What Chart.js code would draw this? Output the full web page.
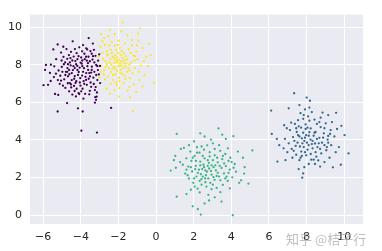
<!DOCTYPE html>
<html lang="en">
<head>
    <meta charset="UTF-8">
    <title>Blobs scatter</title>
    <script src="https://cdn.jsdelivr.net/npm/chart.js"></script>
    <style>
        body { margin: 0; background: #ffffff; }
        #wrap { position: relative; width: 382px; height: 251px; }
        #mark {
            position: absolute; left: 286px; top: 229px;
            font-family: "Noto Sans CJK SC", sans-serif; font-size: 13px;
            color: rgba(170, 170, 170, 0.75); white-space: nowrap;
        }
    </style>
</head>
<body>
<div id="wrap">
    <canvas id="blobs" width="382" height="251"></canvas>
    <div id="mark">知乎 @桔子行</div>
</div>
<script>
// tick labels
let xTicks = [-6, -4, -2, 0, 2, 4, 6, 8, 10];
let yTicks = [0, 2, 4, 6, 8, 10];

// cluster points [x, y]
let purplePts = [
    [-3.97,4.49],[-3.14,4.39],[-5.23,5.51],[-4.15,5.68],[-3.90,5.51],[-2.39,5.70],[-4.73,5.96],[-5.37,6.44],[-5.20,6.39],[-5.98,6.91],[-3.19,6.13],[-3.16,6.30],[-4.08,6.44],[-4.33,6.60],
    [-3.58,9.41],[-4.43,9.24],[-4.93,8.95],[-5.23,9.07],[-5.46,8.81],[-5.85,7.98],[-5.90,7.72],[-5.59,8.00],[-5.64,7.56],[-5.60,7.13],[-5.43,7.34],[-5.74,6.93],
    [-4.90,8.02],[-4.72,8.31],[-4.52,8.68],[-4.31,8.83],[-4.08,8.92],[-3.88,9.04],[-3.71,8.87],[-3.49,8.72],[-3.30,8.79],[-3.22,8.47],[-3.08,8.21],[-2.98,7.93],[-3.04,7.48],[-3.12,7.18],[-2.97,7.02],[-3.21,6.81],[-3.14,6.52],[-3.23,6.27],[-3.52,6.61],[-3.68,6.93],[-3.91,6.72],[-4.12,6.49],[-4.02,6.88],[-4.28,7.03],[-4.51,6.79],[-4.69,7.01],[-4.88,7.22],[-5.09,7.41],[-5.18,7.69],[-5.01,7.88],[-4.79,7.62],[-4.61,7.49],[-4.42,7.71],[-4.19,7.93],[-4.01,8.11],[-3.79,8.29],[-3.62,8.08],[-3.41,7.89],[-3.28,7.62],[-3.51,7.38],[-3.72,7.19],[-3.93,7.42],[-4.11,7.61],[-4.32,7.39],[-4.48,7.18],[-4.71,7.82],[-4.92,8.41],[-4.58,8.12],[-4.38,8.43],[-4.22,8.61],[-3.98,8.38],[-3.81,8.58],[-3.59,8.42],[-3.38,8.27],[-3.18,7.98],[-3.33,7.31],[-3.61,7.72],[-3.83,7.81],[-4.03,7.28],[-4.24,7.12],[-4.39,7.92],[-4.63,8.51],[-4.83,8.12],[-5.02,8.22],[-5.31,8.29],[-5.41,7.91],[-5.22,7.18],[-4.95,6.88],[-4.62,6.58],[-4.26,6.31],[-3.86,6.19],[-3.55,6.42],[-3.31,6.97],[-3.09,7.71],[-3.42,8.58],[-3.93,8.71],[-4.29,8.19],[-4.68,7.38],[-3.71,7.55],[-4.06,7.84],[-4.54,7.96],[-3.95,8.05],[-3.48,7.05],[-3.82,6.98],[-4.36,6.87],[-4.82,6.76],[-5.12,6.98],[-3.66,8.81],[-4.18,8.29],[-3.02,8.55],[-3.77,6.45],[-4.45,6.41],[-3.25,5.98],[-5.05,8.64],[-4.76,8.83],[-3.36,9.12],
    [-4.15,7.45],[-3.88,7.62],[-3.65,7.92],[-3.45,7.58],[-3.92,8.22],[-4.25,8.02],[-4.48,7.55],[-4.72,7.62],[-4.35,7.25],[-3.58,7.25],[-3.42,7.72],[-3.85,7.12],[-4.05,7.05],[-4.58,7.02],[-4.82,7.45],[-4.98,7.62],[-4.68,8.02],[-4.45,8.22],[-4.12,8.45],[-3.72,8.42],[-3.52,8.18],[-3.28,8.12],[-3.18,7.45],[-3.25,6.65],[-3.45,6.82],[-3.98,6.58],[-4.22,6.72],[-4.52,6.95],[-5.05,7.15],[-5.32,7.52],[-4.32,7.82],[-3.75,7.35],[-3.55,7.55],[-4.18,7.72],[-3.92,7.92],[-4.62,7.72],[-3.68,8.21],[-3.12,7.92],[-3.35,8.45],[-4.55,8.35]
];
let bluePts = [
    [6.12,5.56],[7.34,6.48],[8.01,6.25],[8.18,6.08],[9.57,5.44],[10.23,3.28],[9.82,2.68],[9.40,2.54],[7.77,1.99],[7.82,2.22],[6.15,4.32],[6.45,2.85],[6.55,3.72],[7.58,2.45],[8.72,2.58],[6.81,4.78],[7.05,5.68],[9.85,4.75],[10.02,4.25],[9.72,3.62],[7.62,5.85],[8.15,5.72],[8.75,5.18],[9.15,5.32],[6.42,4.05],
    [7.52,3.85],[7.75,4.08],[7.98,4.25],[8.21,4.02],[8.45,3.81],[8.68,4.11],[8.92,4.35],[9.12,4.02],[9.31,3.72],[9.05,3.45],[8.78,3.28],[8.52,3.11],[8.25,2.95],[7.98,3.18],[7.72,3.38],[7.45,3.21],[7.21,3.52],[7.05,3.82],[7.28,4.15],[7.48,4.42],[7.71,4.65],[7.95,4.82],[8.22,4.61],[8.48,4.42],[8.75,4.68],[9.02,4.88],[9.28,4.52],[9.48,4.18],[9.55,3.35],[9.22,3.05],[8.95,2.82],[8.62,2.91],[8.12,2.72],[7.62,2.92],[7.25,3.05],[6.98,3.35],[6.85,4.05],[7.12,4.52],[7.38,4.85],[7.82,5.12],[7.68,5.42],[8.08,5.25],[8.42,5.08],[8.85,5.45],[9.35,4.95],[7.88,3.95],[8.11,3.72],[8.32,3.55],[8.05,3.48],[7.85,3.62],[7.62,4.18],[8.38,4.22],[8.58,3.62],[8.15,4.41],[7.42,3.68],[8.82,3.85],[9.08,3.62],[7.95,4.58],[8.68,4.95],[7.18,4.92],[6.95,4.62],[6.78,3.55],[7.88,2.55],[8.45,2.72],[9.15,4.21],[9.62,4.58],[7.55,5.05],[8.28,5.48],[7.92,5.62],[8.48,3.35],[7.68,3.05],[6.88,2.92],
    [7.92,4.12],[8.12,4.22],[8.32,3.95],[8.55,4.05],[8.02,3.85],[7.78,3.82],[7.65,3.65],[8.28,3.78],[8.42,4.38],[7.82,4.38],[8.65,3.82],[8.88,4.12],[7.55,4.25],[7.35,3.95],[7.92,3.35],[8.22,3.25],[8.72,3.52],[8.95,3.72],[9.15,3.85],[8.05,4.65],[8.55,4.85],[7.58,4.72],[7.32,3.42],[8.38,2.95],[7.75,3.15],[9.25,4.32],[8.95,4.62],[8.15,5.02],[7.85,5.32],[7.45,4.62]
];
let greenPts = [
    [1.10,4.32],[3.32,4.61],[4.11,4.20],[5.12,3.44],[4.91,1.68],[0.78,2.37],[1.10,0.98],[2.38,0.03],[4.08,0.00],[1.95,0.47],[2.82,0.78],[3.48,0.72],[2.22,0.32],[1.02,3.15],[0.95,2.92],[4.52,1.85],[4.71,2.55],[4.62,3.05],[3.71,4.05],[2.58,4.18],[2.02,3.92],[1.32,3.52],[1.28,2.82],[1.05,2.52],
    [2.11,2.62],[2.35,2.85],[2.58,3.02],[2.81,2.78],[3.05,2.55],[3.28,2.81],[3.52,2.98],[3.71,2.61],[3.92,2.42],[3.61,2.22],[3.35,2.05],[3.11,1.88],[2.88,1.72],[2.61,1.95],[2.38,2.18],[2.15,2.05],[1.92,2.32],[1.71,2.58],[1.88,2.88],[2.05,3.15],[2.31,3.32],[2.55,3.48],[2.85,3.35],[3.12,3.18],[3.41,3.42],[3.68,3.25],[3.95,3.05],[4.18,2.72],[4.25,2.31],[4.05,2.01],[3.81,1.82],[3.55,1.61],[3.22,1.45],[2.95,1.38],[2.68,1.52],[2.42,1.62],[2.21,1.41],[1.98,1.72],[1.75,1.95],[1.55,2.21],[1.42,2.68],[1.61,3.02],[1.82,3.38],[2.18,3.61],[2.72,3.71],[3.02,3.82],[3.35,3.72],[3.82,3.55],[4.35,3.38],[4.42,1.72],[3.92,1.42],[3.42,1.22],[2.78,1.08],[2.32,1.21],[1.85,1.35],[2.45,2.45],[2.71,2.31],[2.95,2.15],[3.18,2.38],[2.52,2.68],[2.28,2.42],[2.82,2.48],[3.02,2.92],[2.65,2.12],[2.41,1.92],[3.48,2.51],[3.28,2.25],[2.12,2.88],[1.68,2.12],[4.02,2.82],[3.75,2.05],[2.58,0.62],[3.12,0.95],[1.62,1.12],[4.68,2.21],[1.48,3.58],[2.92,4.02],[3.52,4.28],[2.35,4.35],[1.75,3.72],
    [2.55,2.55],[2.75,2.62],[2.92,2.35],[2.62,2.38],[3.15,2.65],[3.38,2.62],[2.35,2.65],[2.22,2.25],[2.48,2.05],[2.78,1.95],[3.05,2.02],[3.22,2.08],[2.95,2.65],[3.62,2.75],[3.85,2.88],[2.08,2.45],[1.85,2.55],[2.02,1.95],[2.32,1.82],[2.75,2.92],[3.25,3.05],[3.55,3.15],[2.48,3.15],[2.18,3.32],[3.85,2.25],[2.62,1.75],[3.42,1.85],[3.68,1.95],[1.62,2.42],[4.12,2.52],[2.85,3.12],[3.12,3.52],[2.42,3.65],[1.95,3.05],[2.05,1.52],[3.02,1.62]
];
let yellowPts = [
    [-2.45,9.84],[-1.77,10.24],[-0.85,9.93],[-0.28,8.51],[-0.11,7.03],[-1.24,5.53],[-1.97,6.30],[-1.05,6.55],[-2.62,6.72],[-0.52,8.42],[-0.61,7.45],[-0.95,9.28],[-2.21,9.62],[-2.76,9.41],[-1.52,9.55],[-1.28,9.02],[-0.72,8.88],[-0.43,7.92],[-0.88,7.18],[-1.42,6.82],[-2.08,6.92],[-2.71,7.21],[-2.85,8.62],[-2.91,7.62],
    [-2.31,8.42],[-2.12,8.21],[-1.93,8.05],[-1.78,8.35],[-2.02,8.62],[-2.25,7.91],[-2.48,8.12],[-2.39,7.62],[-2.15,7.48],[-1.88,7.72],[-1.62,7.91],[-1.55,8.28],[-1.71,8.61],[-1.92,8.88],[-2.18,9.01],[-2.41,8.79],[-2.61,8.48],[-2.68,7.88],[-2.55,7.38],[-2.28,7.18],[-1.98,7.31],[-1.68,7.42],[-1.41,7.68],[-1.32,8.11],[-1.21,8.48],[-1.46,8.82],[-1.65,9.12],[-1.98,9.28],[-2.36,9.21],[-2.72,9.05],[-2.82,8.31],[-2.05,8.38],[-1.84,8.18],[-2.21,8.11],[-2.43,8.31],[-1.99,7.92],[-1.72,8.05],[-2.32,7.78],[-2.08,7.69],[-1.81,7.51],[-1.55,7.62],[-1.12,7.82],[-0.98,8.28],[-1.05,8.71],[-1.28,9.31],[-2.55,9.51],[-2.95,8.95],[-2.92,7.95],[-2.78,7.48],[-2.41,6.98],[-1.72,7.02],[-1.38,7.28],[-0.81,7.95],[-0.65,8.18],[-1.62,8.45],[-1.89,8.51],[-2.12,8.78],[-2.62,8.71],[-2.51,7.82],[-1.95,7.12],[-1.18,6.95],[-1.51,6.62],[-2.22,6.65],[-0.38,9.12],[-0.95,9.65],[-1.85,9.78],[-2.92,9.61],[-3.05,8.45],[-3.02,7.32],[-1.42,8.01],[-1.15,8.21],[-2.68,8.18],[-2.18,8.48],[-1.75,7.82],
    [-2.22,8.32],[-2.05,8.12],[-1.85,7.95],[-2.38,8.02],[-2.18,7.82],[-1.98,8.25],[-1.68,8.22],[-2.55,8.55],[-2.35,8.62],[-1.82,8.72],[-1.58,8.05],[-1.48,7.82],[-2.62,8.02],[-2.28,7.45],[-1.92,7.58],[-1.35,8.62],[-1.12,8.45],[-2.02,9.05],[-2.48,9.02],[-1.62,7.25],[-2.75,7.72],[-1.25,7.55],[-0.92,7.62],[-1.95,6.75],[-2.45,6.45],[-2.12,7.05],[-1.02,9.02],[-2.85,9.25],[-1.38,6.25],[-0.72,6.85]
];

function toXY(pts) {
    return pts.map(p => ({ x: p[0], y: p[1] }));
}

function tickText(v) {
    return v < 0 ? '\u2212' + Math.abs(v) : String(v);
}

let tickFont = { family: 'DejaVu Sans', size: 11 };
let dot = { pointRadius: 1.15, pointBorderWidth: 0, pointHoverRadius: 1.15 };

let ctx = document.getElementById('blobs').getContext('2d');
let blobChart = new Chart(ctx, {
    type: 'scatter',
    data: {
        datasets: [
            { label: 'c0', data: toXY(purplePts), backgroundColor: '#440154', ...dot },
            { label: 'c1', data: toXY(bluePts), backgroundColor: '#31688e', ...dot },
            { label: 'c2', data: toXY(greenPts), backgroundColor: '#35b779', ...dot },
            { label: 'c3', data: toXY(yellowPts), backgroundColor: '#fde725', ...dot }
        ]
    },
    options: {
        responsive: false,
        animation: false,
        devicePixelRatio: 1,
        layout: { padding: { top: 9, right: 19, left: 0, bottom: 0 } },
        plugins: {
            legend: { display: false },
            tooltip: { enabled: false }
        },
        scales: {
            x: {
                type: 'linear',
                min: -6.7,
                max: 11.0,
                afterBuildTicks: s => { s.ticks = xTicks.map(v => ({ value: v })); },
                afterFit: s => { s.height = 27; },
                grid: { color: '#ffffff', lineWidth: 1, drawTicks: false },
                border: { display: false },
                ticks: { font: tickFont, color: '#262626', padding: 7, maxRotation: 0, callback: tickText }
            },
            y: {
                type: 'linear',
                min: -0.47,
                max: 10.66,
                afterBuildTicks: s => { s.ticks = yTicks.map(v => ({ value: v })); },
                afterFit: s => { s.width = 30; },
                grid: { color: '#ffffff', lineWidth: 1, drawTicks: false },
                border: { display: false },
                ticks: { font: tickFont, color: '#262626', padding: 8, callback: tickText }
            }
        }
    },
    plugins: [{
        id: 'darkgrid',
        beforeDraw(chart) {
            let a = chart.chartArea;
            chart.ctx.save();
            chart.ctx.fillStyle = '#eaeaf2';
            chart.ctx.fillRect(a.left, a.top, a.right - a.left, a.bottom - a.top);
            chart.ctx.restore();
        }
    }]
});
</script>
</body>
</html>
